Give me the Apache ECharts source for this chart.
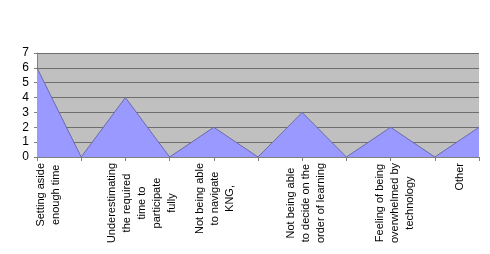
<!DOCTYPE html>
<html>
<head>
<meta charset="utf-8">
<script src="https://cdn.jsdelivr.net/npm/echarts@6/dist/echarts.min.js"></script>
<style>
html,body{margin:0;padding:0;background:#fff;}
#chart{width:490px;height:254px;}
</style>
</head>
<body>
<div id="chart"></div>
<script>
// categories (blank entries are the dips between the reasons)
var categories = [
	'Setting aside\nenough time', '',
	'Underestimating\nthe required\ntime to\nparticipate\nfully', '',
	'Not being able\nto navigate\nKNG,', '',
	'Not being able\nto decide on the\norder of learning', '',
	'Feeling of being\noverwhelmed by\ntechnology', '',
	'Other'
];
var values = [6, 0, 4, 0, 2, 0, 3, 0, 2, 0, 2];
var yTicks = [0, 1, 2, 3, 4, 5, 6, 7];
// sideways nudge of each label block (px, + = right), like the original sheet
var labelShift = [11, 0, 17, 0, 1, 0, 4, 0, 4, 0, -19];

var chart = echarts.init(document.getElementById('chart'));

// wrap every line in a centred rich token so the lines centre on each other
function centreLines(s) {
	if (!s) return '';
	return s.split('\n').map(function(l) { return '{c|' + l + '}'; }).join('\n');
}

var axisData = categories.map(function(c, i) {
	var d = labelShift[i];
	// rotated 90deg: local top padding pushes the text to the right on screen
	var pad = d >= 0 ? [d * 2, 0, 0, 0] : [0, 0, -d * 2, 0];
	return {value: c, textStyle: {padding: pad}};
});

chart.setOption({
	animation: false,
	grid: {
		left: 37,
		right: 11,
		top: 53,
		bottom: 97,
		outerBoundsMode: 'none',
		show: true,
		backgroundColor: '#c0c0c0',
		borderWidth: 0
	},
	xAxis: {
		type: 'category',
		boundaryGap: false,
		data: axisData,
		axisLine: {lineStyle: {color: '#808080', width: 1}},
		axisTick: {show: true, interval: 0, length: 4, lineStyle: {color: '#808080'}},
		axisLabel: {
			interval: 0,
			rotate: 90,
			margin: 6,
			color: '#000',
			fontFamily: 'Liberation Sans, Arial',
			fontSize: 11,
			lineHeight: 15,
			formatter: centreLines,
			rich: {
				c: {align: 'center', fontSize: 11, lineHeight: 15, fontFamily: 'Liberation Sans, Arial', color: '#000'}
			}
		},
		splitLine: {show: false}
	},
	yAxis: {
		type: 'value',
		min: yTicks[0],
		max: yTicks[yTicks.length - 1],
		interval: 1,
		axisLine: {show: true, lineStyle: {color: '#808080'}},
		axisTick: {show: true, length: 3, lineStyle: {color: '#808080'}},
		axisLabel: {
			color: '#000',
			fontFamily: 'Liberation Sans, Arial',
			fontSize: 12,
			margin: 8
		},
		splitLine: {show: true, lineStyle: {color: '#6e6e6e', width: 1}}
	},
	series: [{
		type: 'line',
		data: values,
		symbol: 'none',
		lineStyle: {color: '#6b6ba8', width: 1},
		areaStyle: {color: '#9999ff', opacity: 1}
	}]
});
</script>
</body>
</html>
